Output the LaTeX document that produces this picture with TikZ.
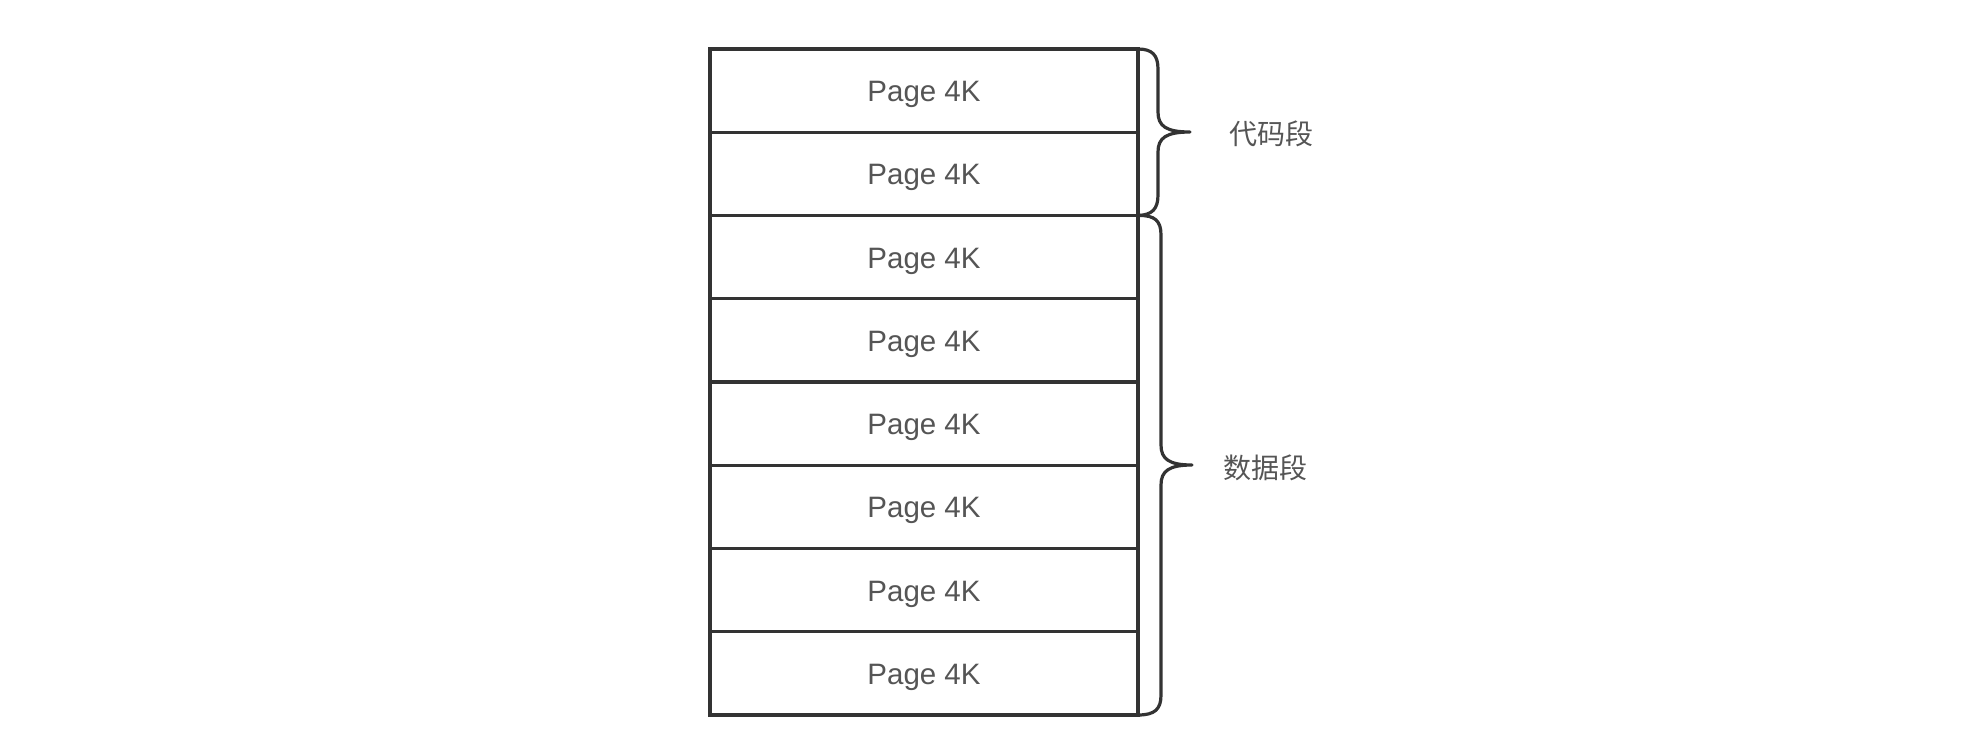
\documentclass[tikz,border=0pt]{standalone}
\usepackage{fontspec}
\setmainfont{Liberation Sans}
\newfontfamily\cjk{Noto Sans CJK SC}
\definecolor{linec}{HTML}{333333}
\definecolor{textc}{HTML}{555555}
\begin{document}
\begin{tikzpicture}[x=1pt,y=-1pt,
  pagebox/.style={draw=linec,line width=3.2pt,minimum width=428pt,minimum height=83.25pt,inner sep=0pt,outer sep=0pt,
    font=\fontsize{29.5}{29.5}\selectfont,text=textc},
  bracepath/.style={draw=linec,line width=3.2pt,line join=round,line cap=round},
  seglabel/.style={font=\cjk\fontsize{28}{28}\selectfont,text=textc,inner sep=0pt}]
\useasboundingbox (0,0) rectangle (1971,734);
\foreach \i in {1,...,8}{
  \node[pagebox] (r\i) at (924,{49+83.25*(\i-0.5)}) {\smash{\raisebox{-11pt}{Page 4K}}};
}
% code segment brace
\draw[bracepath] (r1.north east) .. controls (1152,49) and (1158,55) .. (1158,69) -- (1158,112)
  .. controls (1158,126) and (1166,132) .. (1190,132)
  .. controls (1166,132) and (1158,138) .. (1158,152) -- (1158,195)
  .. controls (1158,209) and (1152,215) .. (r2.south east);
% data segment brace
\draw[bracepath] (r3.north east) .. controls (1155,215) and (1161,221) .. (1161,235) -- (1161,445)
  .. controls (1161,459) and (1169,465) .. (1192,465)
  .. controls (1169,465) and (1161,471) .. (1161,485) -- (1161,695)
  .. controls (1161,709) and (1155,715) .. (r8.south east);
\node[seglabel] (code) at (1271,134) {代码段};
\node[seglabel] (data) at (1265,468) {数据段};
\end{tikzpicture}
\end{document}
